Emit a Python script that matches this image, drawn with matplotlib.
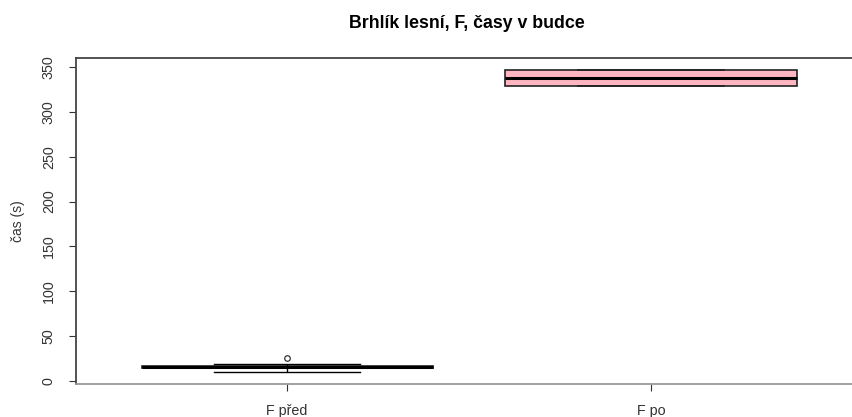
import matplotlib
matplotlib.use('Agg')
import matplotlib.pyplot as plt

# data (seconds)
labels = ['F před', 'F po']
whislo = [10, 329]
q1 = [14, 329]
med = [15.5, 338]
q3 = [17, 347]
whishi = [19, 347]
fliers = [[25.5], []]
box_colors = ['#4a0505', '#ffb6c1']

plt.rcParams['font.family'] = ['Liberation Sans', 'DejaVu Sans']

fig = plt.figure(figsize=(8.53, 4.17), dpi=100)
# right edge runs past the picture, like the original crop
ax = fig.add_axes([76 / 853, 1 - 384 / 417, (862 - 76) / 853, (384 - 58) / 417])

stats = []
for i in range(len(labels)):
    stats.append(dict(label=labels[i], whislo=whislo[i], q1=q1[i], med=med[i],
                      q3=q3[i], whishi=whishi[i], fliers=fliers[i]))

bp = ax.bxp(stats, positions=[1, 2], widths=0.8, patch_artist=True,
            boxprops=dict(edgecolor='#222222', linewidth=1.2),
            medianprops=dict(color='black', linewidth=2.2),
            whiskerprops=dict(color='black', linewidth=1, linestyle=(0, (4, 3))),
            capprops=dict(color='black', linewidth=1),
            capwidths=0.4,
            flierprops=dict(marker='o', markersize=4, markerfacecolor='none',
                            markeredgecolor='#333333', markeredgewidth=0.9))
for patch, c in zip(bp['boxes'], box_colors):
    patch.set_facecolor(c)
# second group: whisker caps sit on the box edges
for cap in bp['caps'][2:]:
    cap.set_color('#222222')
    cap.set_linewidth(1.2)

ax.set_xlim(0.42, 2.58)
ax.set_ylim(-3.3, 360)
ax.set_yticks(range(0, 351, 50))
ax.set_xticks([1, 2])
ax.set_xticklabels(labels, fontsize=10.3, color='#222222')
ax.tick_params(axis='y', labelrotation=90, labelsize=10.3, colors='#333333',
               length=5, pad=9.5)
ax.tick_params(axis='x', length=5, colors='#333333', pad=9.5)
for lab in ax.get_yticklabels():
    lab.set_va('center')

for side in ['left', 'top', 'right']:
    ax.spines[side].set_color('#444444')
    ax.spines[side].set_linewidth(1.3)
ax.spines['bottom'].set_color('#999999')
ax.spines['bottom'].set_linewidth(1.3)

ax.set_ylabel('čas (s)', fontsize=10, color='#333333')
ax.yaxis.set_label_coords(-51 / 786, 0.5)
fig.text(467 / 853, 1 - 23 / 417, 'Brhlík lesní, F, časy v budce', ha='center',
         va='center', fontsize=12.8, fontweight='bold')

fig.savefig('out.png', dpi=100)
